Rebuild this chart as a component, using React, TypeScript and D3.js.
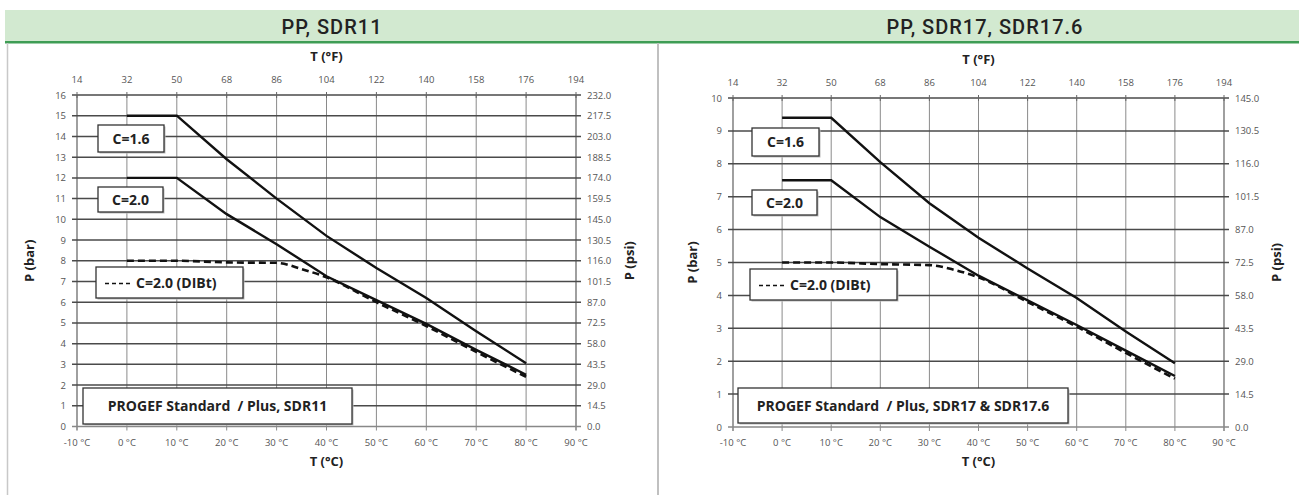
import React from "react";
import * as d3 from "d3";

// ---------- data ----------
const tempsC = [0, 10, 20, 30, 40, 50, 60, 70, 80];
const dibtTempsC = [0, 10, 20, 30, 35, 40, 50, 60, 70, 80];

const sdr11C16 = [15, 15, 12.9, 11.0, 9.2, 7.65, 6.2, 4.6, 3.05];
const sdr11C20 = [12, 12, 10.25, 8.8, 7.25, 6.1, 4.95, 3.7, 2.5];
const sdr11Dibt = [8, 8, 7.92, 7.9, 7.6, 7.2, 6.0, 4.85, 3.6, 2.4];

const sdr17C16 = [9.4, 9.4, 8.05, 6.8, 5.75, 4.82, 3.92, 2.9, 1.94];
const sdr17C20 = [7.5, 7.5, 6.38, 5.48, 4.6, 3.85, 3.1, 2.32, 1.55];
const sdr17Dibt = [5, 5, 4.95, 4.92, 4.78, 4.55, 3.8, 3.05, 2.25, 1.47];

const celsiusTicks = [-10, 0, 10, 20, 30, 40, 50, 60, 70, 80, 90];
const fahrenheitTicks = [14, 32, 50, 68, 86, 104, 122, 140, 158, 176, 194];
const barTicks11 = d3.range(0, 17);
const barTicks17 = d3.range(0, 11);
const psiTicks11 = d3.range(0, 17).map((i) => i * 14.5);
const psiTicks17 = d3.range(0, 11).map((i) => i * 14.5);

const titles = ["PP, SDR11", "PP, SDR17, SDR17.6"];
const legendLabels = ["C=1.6", "C=2.0", "C=2.0 (DIBt)"];
const footnotes = ["PROGEF Standard  / Plus, SDR11", "PROGEF Standard  / Plus, SDR17 & SDR17.6"];

// ---------- styles ----------
const FONT = "'Open Sans', 'Noto Sans', sans-serif";
const TICK_COLOR = "#555";

type PanelProps = {
  x0: number; x1: number; yTop: number; yBot: number;
  barMax: number; psiMax: number;
  barTicks: number[]; psiTicks: number[];
  c16: number[]; c20: number[]; dibt: number[];
  boxes: { c16: number[]; c20: number[]; dibt: number[]; foot: number[] };
  footnote: string;
  barLabelX: number; psiLabelX: number;
};

function Box({ b, text, dashed }: { b: number[]; text: string; dashed?: boolean }) {
  const [x, y, w, h] = b;
  return (
    <g>
      <rect x={x + 1.5} y={y + 1.5} width={w} height={h} fill="#bbb" />
      <rect x={x} y={y} width={w} height={h} fill="#fff" stroke="#333" strokeWidth={1.3} />
      {dashed ? (
        <g>
          <line x1={x + 9} x2={x + 36} y1={y + h / 2 + 1} y2={y + h / 2 + 1} stroke="#111" strokeWidth={1.6} strokeDasharray="4,3" />
          <text x={x + 40} y={y + h / 2 + 5} fontFamily={FONT} fontWeight={700} fontSize={14} fill="#222">{text}</text>
        </g>
      ) : (
        <text x={x + w / 2} y={y + h / 2 + 5} textAnchor="middle" fontFamily={FONT} fontWeight={700} fontSize={14} fill="#222" style={{ whiteSpace: "pre" }}>{text}</text>
      )}
    </g>
  );
}

function Panel(p: PanelProps) {
  const x = d3.scaleLinear().domain([-10, 90]).range([p.x0, p.x1]);
  const xF = d3.scaleLinear().domain([14, 194]).range([p.x0, p.x1]);
  const y = d3.scaleLinear().domain([0, p.barMax]).range([p.yBot, p.yTop]);
  const yPsi = d3.scaleLinear().domain([0, p.psiMax]).range([p.yBot, p.yTop]);
  const line = d3.line<[number, number]>().x((d) => x(d[0])).y((d) => y(d[1]));
  const lineDibt = d3.line<[number, number]>().x((d) => x(d[0])).y((d) => y(d[1])).curve(d3.curveMonotoneX);
  const cx = (p.x0 + p.x1) / 2;
  const cy = (p.yTop + p.yBot) / 2;
  return (
    <g>
      {/* vertical grid */}
      {celsiusTicks.map((t) => (
        <line key={"v" + t} x1={x(t)} x2={x(t)} y1={p.yTop} y2={p.yBot + 4} stroke={t === -10 || t === 90 ? "#777" : "#8a8a8a"} strokeWidth={t === -10 || t === 90 ? 1.4 : 1} />
      ))}
      {/* horizontal grid */}
      {p.barTicks.map((t) => (
        <line key={"h" + t} x1={p.x0 - 5} x2={p.x1 + 5} y1={y(t)} y2={y(t)} stroke={t === 0 ? "#888" : "#4a4a4a"} strokeWidth={t === 0 ? 1.4 : 1.5} />
      ))}
      {/* top ticks */}
      {fahrenheitTicks.map((t) => (
        <line key={"tf" + t} x1={xF(t)} x2={xF(t)} y1={p.yTop - 3} y2={p.yTop + 3} stroke="#666" strokeWidth={1} />
      ))}
      {/* curves */}
      <path d={line(tempsC.map((t, i) => [t, p.c16[i]]) as [number, number][]) || ""} fill="none" stroke="#111" strokeWidth={2.4} />
      <path d={line(tempsC.map((t, i) => [t, p.c20[i]]) as [number, number][]) || ""} fill="none" stroke="#111" strokeWidth={2.4} />
      <path d={lineDibt(dibtTempsC.map((t, i) => [t, p.dibt[i]]) as [number, number][]) || ""} fill="none" stroke="#111" strokeWidth={2.6} strokeDasharray="7,4" />
      {/* legend boxes */}
      <Box b={p.boxes.c16} text={legendLabels[0]} />
      <Box b={p.boxes.c20} text={legendLabels[1]} />
      <Box b={p.boxes.dibt} text={legendLabels[2]} dashed />
      <Box b={p.boxes.foot} text={p.footnote} />
      {/* left labels */}
      {p.barTicks.map((t) => (
        <text key={"bl" + t} x={p.x0 - 11} y={y(t) + 3.5} textAnchor="end" fontFamily={FONT} fontSize={9.5} fill={TICK_COLOR}>{t}</text>
      ))}
      {/* right labels */}
      {p.psiTicks.map((t) => (
        <text key={"pl" + t} x={p.x1 + 11} y={yPsi(t) + 3.5} textAnchor="start" fontFamily={FONT} fontSize={9.5} fill={TICK_COLOR}>{t.toFixed(1)}</text>
      ))}
      {/* top labels */}
      {fahrenheitTicks.map((t) => (
        <text key={"fl" + t} x={xF(t)} y={p.yTop - 12} textAnchor="middle" fontFamily={FONT} fontSize={9.5} fill={TICK_COLOR}>{t}</text>
      ))}
      {/* bottom labels */}
      {celsiusTicks.map((t) => (
        <text key={"cl" + t} x={x(t)} y={p.yBot + 19} textAnchor="middle" fontFamily={FONT} fontSize={9.5} fill={TICK_COLOR}>{t + " °C"}</text>
      ))}
      {/* axis titles */}
      <text x={cx} y={p.yTop - 34} textAnchor="middle" fontFamily={FONT} fontWeight={700} fontSize={13} fill="#222">T (°F)</text>
      <text x={cx} y={p.yBot + 39} textAnchor="middle" fontFamily={FONT} fontWeight={700} fontSize={13} fill="#222">T (°C)</text>
      <text transform={`translate(${p.barLabelX},${cy}) rotate(-90)`} textAnchor="middle" fontFamily={FONT} fontWeight={700} fontSize={13} fill="#222">P (bar)</text>
      <text transform={`translate(${p.psiLabelX},${cy}) rotate(-90)`} textAnchor="middle" fontFamily={FONT} fontWeight={700} fontSize={13} fill="#222">P (psi)</text>
    </g>
  );
}

export default function App() {
  return (
    <svg width={1299} height={495} style={{ position: "absolute", left: 0, top: 0, background: "#fff" }}>
      <rect x={0} y={0} width={1299} height={495} fill="#fff" />
      {/* header band */}
      <rect x={5} y={10} width={1294} height={32} fill="#d2e9d0" />
      <rect x={5} y={41} width={1294} height={2.5} fill="#3f9d55" />
      <text x={332} y={34} textAnchor="middle" fontFamily="'Roboto', sans-serif" fontWeight={500} fontSize={20} letterSpacing={1} fill="#222">{titles[0]}</text>
      <text x={985} y={34} textAnchor="middle" fontFamily="'Roboto', sans-serif" fontWeight={500} fontSize={20} letterSpacing={1} fill="#222">{titles[1]}</text>
      {/* panel borders */}
      <line x1={7.5} x2={7.5} y1={43} y2={495} stroke="#c8c8c8" strokeWidth={1.5} />
      <line x1={658} x2={658} y1={43} y2={495} stroke="#c0c0c0" strokeWidth={2} />

      <Panel
        x0={77} x1={576} yTop={95} yBot={426.5}
        barMax={16} psiMax={232}
        barTicks={barTicks11} psiTicks={psiTicks11}
        c16={sdr11C16} c20={sdr11C20} dibt={sdr11Dibt}
        boxes={{ c16: [98, 125, 66, 27], c20: [98, 187, 65, 25], dibt: [96, 267, 147, 31], foot: [83, 388, 269, 36] }}
        footnote={footnotes[0]}
        barLabelX={34} psiLabelX={634}
      />
      <Panel
        x0={733} x1={1224} yTop={98} yBot={427}
        barMax={10} psiMax={145}
        barTicks={barTicks17} psiTicks={psiTicks17}
        c16={sdr17C16} c20={sdr17C20} dibt={sdr17Dibt}
        boxes={{ c16: [752, 128, 67, 28], c20: [752, 190, 65, 25], dibt: [750, 269, 147, 31], foot: [738, 388, 330, 35] }}
        footnote={footnotes[1]}
        barLabelX={697} psiLabelX={1281}
      />
    </svg>
  );
}
